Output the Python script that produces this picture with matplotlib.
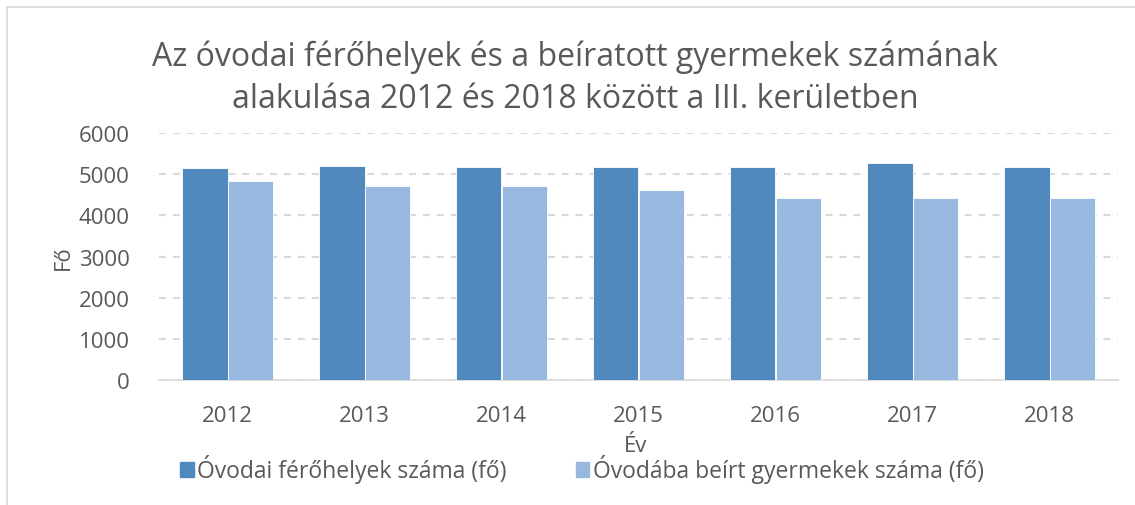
import numpy as np
from matplotlib import pyplot as plt
from matplotlib.lines import Line2D

# adatok a diagramról leolvasva
years = ['2012', '2013', '2014', '2015', '2016', '2017', '2018']
ferohelyek = [5150, 5190, 5165, 5170, 5180, 5260, 5165]
beirt = [4840, 4715, 4705, 4610, 4420, 4415, 4415]

title = 'Az óvodai férőhelyek és a beíratott gyermekek számának\nalakulása 2012 és 2018 között a III. kerületben'
label1 = 'Óvodai férőhelyek száma (fő)'
label2 = 'Óvodába beírt gyermekek száma (fő)'

dark = '#4F89BD'
light = '#97B8DF'
txt = '#595959'

plt.rcParams['font.family'] = ['Open Sans', 'DejaVu Sans']
plt.rcParams['lines.scale_dashes'] = False

W, H = 1135, 506
fig = plt.figure(figsize=(W / 100, H / 100), dpi=100)
ax = fig.add_axes([159 / W, 1 - 381 / H, (1118 - 159) / W, (381 - 134) / H])

x = np.arange(len(years))
w = 0.333
ax.bar(x - w / 2, ferohelyek, w, color=dark, edgecolor='white', linewidth=0.6, label=label1, zorder=3)
ax.bar(x + w / 2, beirt, w, color=light, edgecolor='white', linewidth=0.6, label=label2, zorder=3)

ax.set_xlim(-0.5, len(years) - 0.5)
ax.set_ylim(0, 6000)
ax.set_yticks(range(0, 6001, 1000))
ax.set_xticks(x)
ax.set_xticklabels(years)
ax.yaxis.grid(True, color='#D9D9D9', linewidth=1.5, linestyle=(0, (5, 5)), zorder=0)
for s in ['top', 'right', 'left']:
    ax.spines[s].set_visible(False)
ax.spines['bottom'].set_color('#D9D9D9')
ax.spines['bottom'].set_linewidth(1.2)
ax.tick_params(axis='both', length=0, labelsize=16, labelcolor=txt)
ax.tick_params(axis='x', pad=18)
ax.tick_params(axis='y', pad=21)

fig.text(63 / W, 1 - 258 / H, 'Fő', rotation=90, ha='center', va='center', fontsize=16, color=txt)
fig.text(636 / W, 1 - 447 / H, 'Év', ha='center', va='center', fontsize=16, color=txt)
fig.text(575 / W, 1 - 78 / H, title, ha='center', va='center', fontsize=23, color=txt, linespacing=1.35)

handles = [plt.Rectangle((0, 0), 1, 1, color=dark), plt.Rectangle((0, 0), 1, 1, color=light)]
fig.legend(handles, [label1, label2], loc='center', bbox_to_anchor=(582 / W, 1 - 470 / H),
           ncol=2, frameon=False, fontsize=16.5, labelcolor=txt, handlelength=0.6, handleheight=0.6,
           handletextpad=0.15, columnspacing=3.0)

# keret a bal és felső oldalon
fig.add_artist(Line2D([7 / W, 7 / W], [0, 1 - 8 / H], color='#D9D9D9', linewidth=1.2))
fig.add_artist(Line2D([7 / W, 1], [1 - 8 / H, 1 - 8 / H], color='#D9D9D9', linewidth=1.2))

fig.savefig('out.png', dpi=100)
